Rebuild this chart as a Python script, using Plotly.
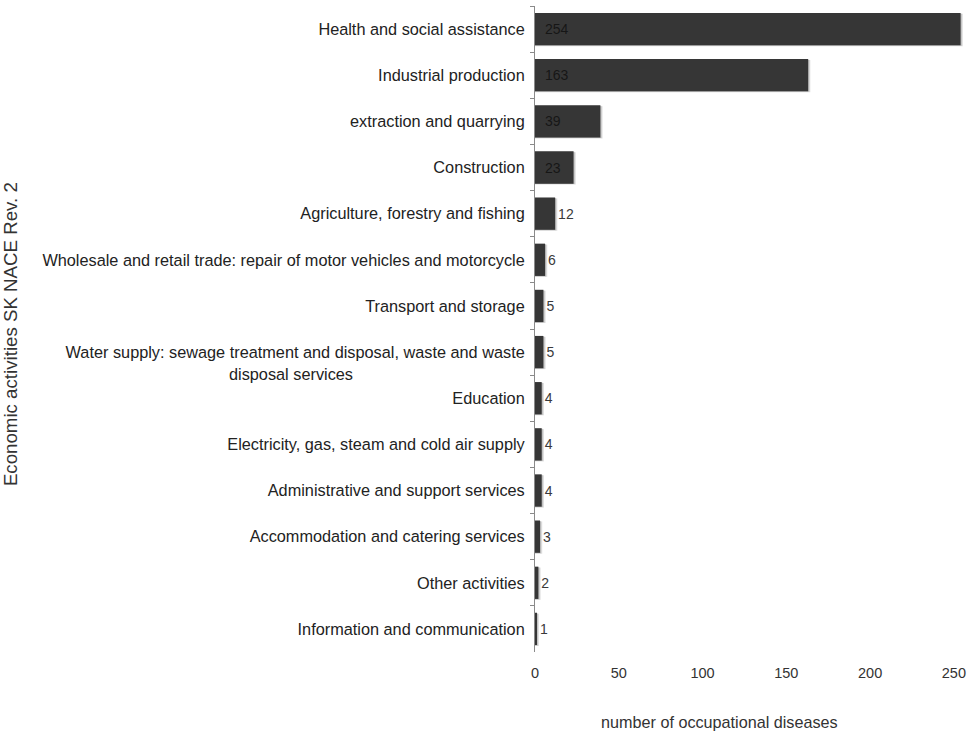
import plotly.graph_objects as go

# Occupational diseases by economic activity (SK NACE Rev. 2)
categories = [
    "Health and social assistance",
    "Industrial production",
    "extraction and quarrying",
    "Construction",
    "Agriculture, forestry and fishing",
    "Wholesale and retail trade: repair of motor vehicles and motorcycle",
    "Transport and storage",
    "Water supply: sewage treatment and disposal, waste and waste",
    "Education",
    "Electricity, gas, steam and cold air supply",
    "Administrative and support services",
    "Accommodation and catering services",
    "Other activities",
    "Information and communication",
]
values = [254, 163, 39, 23, 12, 6, 5, 5, 4, 4, 4, 3, 2, 1]
water_label_cont = "disposal services"
x_ticks = [0, 50, 100, 150, 200, 250]

FONT = "Liberation Sans, Arial, sans-serif"
BAR_COLOR = "#363636"

text_pos = ["inside" if v >= 20 else "outside" for v in values]
# inside labels get a small leading gap from the bar start
bar_text = [("\u2002" + str(v)) if p == "inside" else str(v)
            for v, p in zip(values, text_pos)]

fig = go.Figure()

# soft drop shadow behind the bars
fig.add_trace(go.Bar(
    y=categories, x=[v + 1.3 for v in values], orientation="h",
    width=0.7, offset=-0.33,
    marker=dict(color="rgba(0,0,0,0.14)", line=dict(width=0)),
    hoverinfo="skip", showlegend=False,
))
fig.add_trace(go.Bar(
    y=categories, x=[v + 0.6 for v in values], orientation="h",
    width=0.7, offset=-0.34,
    marker=dict(color="rgba(0,0,0,0.16)", line=dict(width=0)),
    hoverinfo="skip", showlegend=False,
))

fig.add_trace(go.Bar(
    y=categories, x=values, orientation="h",
    width=0.7,
    marker=dict(color=BAR_COLOR, line=dict(width=0)),
    text=bar_text,
    textposition=text_pos,
    insidetextanchor="start",
    insidetextfont=dict(family=FONT, size=14, color="#161616"),
    outsidetextfont=dict(family=FONT, size=14, color="#3a3a3a"),
    cliponaxis=False,
    showlegend=False,
))

fig.update_layout(
    width=974, height=733,
    margin=dict(l=535, r=0, t=6, b=81),
    paper_bgcolor="white", plot_bgcolor="white",
    barmode="overlay",
    font=dict(family=FONT, size=16.3, color="#222"),
    uniformtext=dict(minsize=10, mode="show"),
)

fig.update_xaxes(
    range=[0, 262],
    tickvals=x_ticks,
    showgrid=False, zeroline=False, showline=False,
    ticks="", ticklabelstandoff=10,
    tickfont=dict(family=FONT, size=14.5, color="#333"),
)

fig.update_yaxes(
    categoryorder="array", categoryarray=categories,
    autorange="reversed",
    showgrid=False, zeroline=False,
    showline=True, linecolor="#8a8a8a", linewidth=1,
    ticks="outside", tickson="boundaries", ticklen=4, tickcolor="#8a8a8a",
    ticklabelstandoff=6,
    tickfont=dict(family=FONT, size=16.3, color="#222"),
)

# second line of the water-supply label, centred under the first line
fig.add_annotation(
    text=water_label_cont, xref="paper", yref="y",
    x=-0.556, y=categories[7], yshift=-22,
    xanchor="center", yanchor="middle", showarrow=False,
    font=dict(family=FONT, size=16.3, color="#222"),
)

# axis titles
fig.add_annotation(
    text="Economic activities SK NACE Rev. 2", textangle=-90,
    xref="paper", yref="paper", x=-1.196, y=0.492,
    xanchor="center", yanchor="middle", showarrow=False,
    font=dict(family=FONT, size=18.7, color="#333"),
)
fig.add_annotation(
    text="number of occupational diseases",
    xref="paper", yref="paper", x=0.421, y=-0.108,
    xanchor="center", yanchor="middle", showarrow=False,
    font=dict(family=FONT, size=16.2, color="#333"),
)

fig.write_html("out.html")
